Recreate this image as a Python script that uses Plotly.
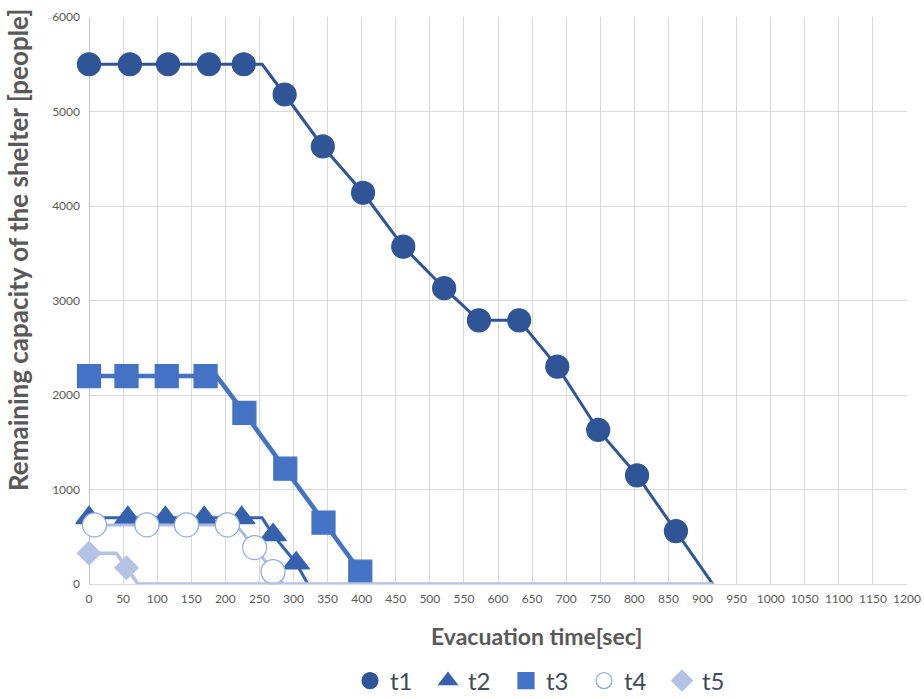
import plotly.graph_objects as go

# Remaining shelter capacity over evacuation time, five scenarios t1..t5
series_names = ["t1", "t2", "t3", "t4", "t5"]

# Sampled points shown as markers
t1_time = [0, 60, 116, 176, 227, 287, 343, 402, 461, 521, 572, 631, 687, 747, 804, 861]
t1_cap = [5500, 5500, 5500, 5500, 5500, 5180, 4630, 4140, 3570, 3130, 2790, 2790, 2300, 1630, 1150, 560]
t2_time = [0, 57, 112, 169, 224, 270, 304]
t2_cap = [700, 700, 700, 700, 700, 520, 220]
t3_time = [0, 55, 114, 171, 228, 288, 344, 398]
t3_cap = [2200, 2200, 2200, 2200, 1810, 1220, 650, 130]
t4_time = [8, 85, 143, 203, 243, 270]
t4_cap = [625, 625, 625, 625, 385, 130]
t5_time = [0, 55]
t5_cap = [325, 172]

# Continuous capacity curves (polyline vertices)
t1_line_time = [0, 254, 287, 343, 402, 461, 521, 572, 631, 687, 747, 804, 861, 915]
t1_line_cap = [5500, 5500, 5180, 4630, 4140, 3570, 3130, 2790, 2790, 2300, 1630, 1150, 560, 0]
t2_line_time = [0, 254, 270, 304, 321]
t2_line_cap = [700, 700, 520, 220, 0]
t3_line_time = [0, 187, 228, 288, 344, 398, 411]
t3_line_cap = [2200, 2200, 1810, 1220, 650, 130, 0]
t4_line_time = [8, 216, 243, 270, 285]
t4_line_cap = [625, 625, 385, 130, 0]
t5_line_time = [0, 40, 55, 72, 915]
t5_line_cap = [325, 325, 172, 0, 0]

x_ticks = list(range(0, 1201, 50))
y_ticks = list(range(0, 6001, 1000))

styles = {
    "t1": dict(color="#2F5597", line_w=3, symbol="circle", size=23, fill="#2F5597", edge="#2F5597"),
    "t2": dict(color="#3462AD", line_w=3, symbol="triangle-up", size=23, fill="#3462AD", edge="#3462AD"),
    "t3": dict(color="#4472C4", line_w=4.5, symbol="square", size=23, fill="#4472C4", edge="#4472C4"),
    "t4": dict(color="#A9BCE6", line_w=3, symbol="circle", size=24, fill="#FFFFFF", edge="#8FAADC"),
    "t5": dict(color="#B4C2E6", line_w=3.5, symbol="diamond", size=18, fill="#B4C2E6", edge="#B4C2E6"),
}

lines = {
    "t1": (t1_line_time, t1_line_cap),
    "t2": (t2_line_time, t2_line_cap),
    "t3": (t3_line_time, t3_line_cap),
    "t4": (t4_line_time, t4_line_cap),
    "t5": (t5_line_time, t5_line_cap),
}
points = {
    "t1": (t1_time, t1_cap),
    "t2": (t2_time, t2_cap),
    "t3": (t3_time, t3_cap),
    "t4": (t4_time, t4_cap),
    "t5": (t5_time, t5_cap),
}

fig = go.Figure()
for name in series_names:
    s = styles[name]
    lx, ly = lines[name]
    fig.add_trace(go.Scatter(
        x=lx, y=ly, mode="lines", showlegend=False, hoverinfo="skip",
        line=dict(color=s["color"], width=s["line_w"]), cliponaxis=False,
    ))
    px, py = points[name]
    fig.add_trace(go.Scatter(
        x=px, y=py, mode="markers", name=name, cliponaxis=False,
        marker=dict(symbol=s["symbol"], size=s["size"], color=s["fill"],
                    line=dict(color=s["edge"], width=1.2)),
    ))

axis_font = dict(family="Lato, 'Open Sans', sans-serif", size=12, color="#595959")

fig.update_layout(
    width=924, height=699,
    margin=dict(l=89, r=17, t=17, b=115, autoexpand=False),
    paper_bgcolor="white", plot_bgcolor="white",
    font=dict(family="Lato, 'Open Sans', sans-serif", color="#595959"),
    showlegend=True,
    legend=dict(
        orientation="h", x=(350 - 89) / 818, xanchor="left",
        y=(584 - 681) / 567, yanchor="middle",
        font=dict(size=24, color="#404A5A"), itemsizing="trace",
        entrywidth=33, bgcolor="rgba(0,0,0,0)",
    ),
    xaxis=dict(
        range=[0, 1200], tickvals=x_ticks, ticktext=[str(v) for v in x_ticks],
        showgrid=True, gridcolor="#D9D9D9", gridwidth=1,
        zeroline=True, zerolinecolor="#C8C8C8", zerolinewidth=1,
        showline=False, ticks="", tickfont=axis_font, ticklabelstandoff=6,
        automargin=False,
    ),
    yaxis=dict(
        range=[0, 6000], tickvals=y_ticks, ticktext=[str(v) for v in y_ticks],
        showgrid=True, gridcolor="#D9D9D9", gridwidth=1,
        zeroline=True, zerolinecolor="#D9D9D9", zerolinewidth=1,
        showline=False, ticks="", tickfont=axis_font, ticklabelstandoff=8,
        automargin=False,
    ),
    annotations=[
        dict(text="<b>Evacuation time[sec]</b>", xref="paper", yref="paper",
             x=(536 - 89) / 818, y=(584 - 636) / 567, xanchor="center", yanchor="middle",
             showarrow=False, font=dict(size=23, color="#595959")),
        dict(text="<b>Remaining capacity of the shelter [people]</b>", xref="paper", yref="paper",
             x=(18 - 89) / 818, y=(584 - 250) / 567, xanchor="center", yanchor="middle",
             textangle=-90, showarrow=False, font=dict(size=26, color="#595959")),
    ],
)

fig.write_html("out.html")
